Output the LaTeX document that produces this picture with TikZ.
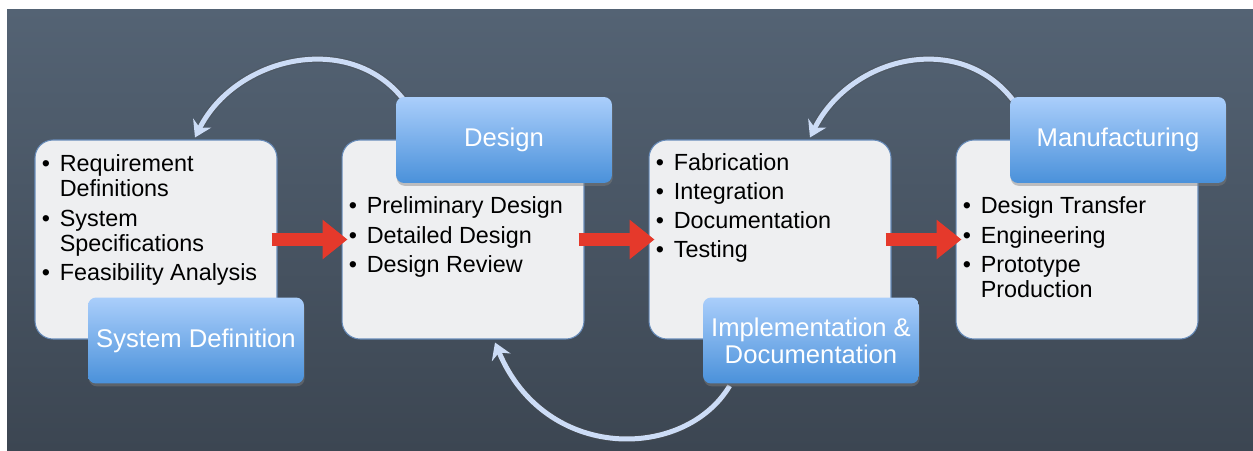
\documentclass[tikz,border=0pt]{standalone}
\usepackage{fontspec}
\setmainfont{Liberation Sans}
\usetikzlibrary{arrows.meta, positioning, shadows}

\definecolor{bgtop}{RGB}{84,99,116}
\definecolor{bgbottom}{RGB}{60,70,82}
\definecolor{panel}{RGB}{238,239,241}
\definecolor{panelrim}{RGB}{104,140,186}
\definecolor{headtop}{RGB}{170,206,251}
\definecolor{headbottom}{RGB}{74,145,218}
\definecolor{flowred}{RGB}{229,57,43}
\definecolor{arcblue}{RGB}{204,220,246}

\pgfdeclarelayer{backdrop}
\pgfdeclarelayer{arcs}
\pgfsetlayers{backdrop,arcs,main}

% bullet lines inside the panels
\newcommand{\bitem}[1]{\makebox[0.36cm][l]{\textbullet}#1}
\newcommand{\bcont}[1]{\hspace*{0.36cm}#1}

\begin{document}
\begin{tikzpicture}[
    x=0.02cm, y=-0.02cm,
    panelbox/.style={draw=panelrim, line width=0.6pt, fill=panel,
                     rounded corners=0.36cm,
                     minimum width=4.84cm, minimum height=3.98cm},
    headbox/.style={rounded corners=0.16cm, top color=headtop,
                    bottom color=headbottom, text=white, align=center,
                    minimum width=4.32cm, minimum height=1.72cm,
                    font=\fontsize{14.6}{15.4}\selectfont,
                    drop shadow={opacity=0.45, shadow xshift=0.4pt,
                                 shadow yshift=-1.6pt}},
    % base anchor sits on the last line of the list
    itemlist/.style={anchor=base west, inner sep=0pt, align=left,
                     font=\fontsize{13.3}{14.2}\selectfont},
    flow/.style={draw=flowred, line width=0.26cm,
                 -{Triangle[length=0.5cm, width=0.76cm]}},
    backarc/.style={draw=arcblue, line width=0.1cm,
                    -{Stealth[length=0.32cm, width=0.4cm]},
                    preaction={draw=black!70, opacity=0.3, line width=0.15cm}}
  ]
  \useasboundingbox (0,0) rectangle (1253,450);

  \begin{pgfonlayer}{backdrop}
    \fill[white] (0,0) rectangle (1253,450);
    \fill[top color=bgtop, bottom color=bgbottom] (7,9) rectangle (1253,450);

    % the four phase panels
    \node[panelbox] (sysdef) at (156,239.5) {};
    \node[panelbox] (design) at (463,239.5) {};
    \node[panelbox] (implement) at (770,239.5) {};
    \node[panelbox] (manuf) at (1077,239.5) {};

    \node[itemlist] (sysdeftxt) at ([xshift=0.14cm, yshift=-2.82cm]sysdef.north west)
      {\bitem{Requirement}\\ \bcont{Definitions}\\[0.09cm]
       \bitem{System}\\ \bcont{Specifications}\\[0.09cm]
       \bitem{Feasibility Analysis}};
    \node[itemlist] (designtxt) at ([xshift=0.14cm, yshift=-2.66cm]design.north west)
      {\bitem{Preliminary Design}\\[0.09cm]
       \bitem{Detailed Design}\\[0.09cm]
       \bitem{Design Review}};
    \node[itemlist] (impltxt) at ([xshift=0.14cm, yshift=-2.36cm]implement.north west)
      {\bitem{Fabrication}\\[0.08cm]
       \bitem{Integration}\\[0.08cm]
       \bitem{Documentation}\\[0.08cm]
       \bitem{Testing}};
    \node[itemlist] (manuftxt) at ([xshift=0.14cm, yshift=-3.16cm]manuf.north west)
      {\bitem{Design Transfer}\\[0.09cm]
       \bitem{Engineering}\\[0.09cm]
       \bitem{Prototype}\\ \bcont{Production}};
  \end{pgfonlayer}

  % phase titles
  \node[headbox] (sysdefhead) at (196,340.5) {System Definition};
  \node[headbox] (designhead) at (504,140) {Design};
  \node[headbox] (implhead) at (811,340.5) {Implementation \&\\Documentation};
  \node[headbox] (manufhead) at (1118,140) {Manufacturing};

  % feedback arcs
  \begin{pgfonlayer}{arcs}
    \draw[backarc] ([xshift=0.16cm, yshift=-0.06cm]designhead.north west)
      .. controls +(-55,-70) and +(40,-80) .. ([xshift=0.78cm, yshift=0.04cm]sysdef.north);
    \draw[backarc] ([xshift=0.06cm, yshift=-0.06cm]manufhead.north west)
      .. controls +(-55,-70) and +(40,-80) .. ([xshift=0.8cm, yshift=0.04cm]implement.north);
    \draw[backarc] ([xshift=0.54cm, yshift=-0.04cm]implhead.south west)
      .. controls +(-45,75) and +(50,120) .. ([xshift=0.64cm, yshift=-0.06cm]design.south);
  \end{pgfonlayer}

  % forward flow
  \draw[flow] ([xshift=-0.12cm]sysdef.east) -- ([xshift=0.12cm]design.west);
  \draw[flow] ([xshift=-0.12cm]design.east) -- ([xshift=0.12cm]implement.west);
  \draw[flow] ([xshift=-0.12cm]implement.east) -- ([xshift=0.12cm]manuf.west);
\end{tikzpicture}
\end{document}
